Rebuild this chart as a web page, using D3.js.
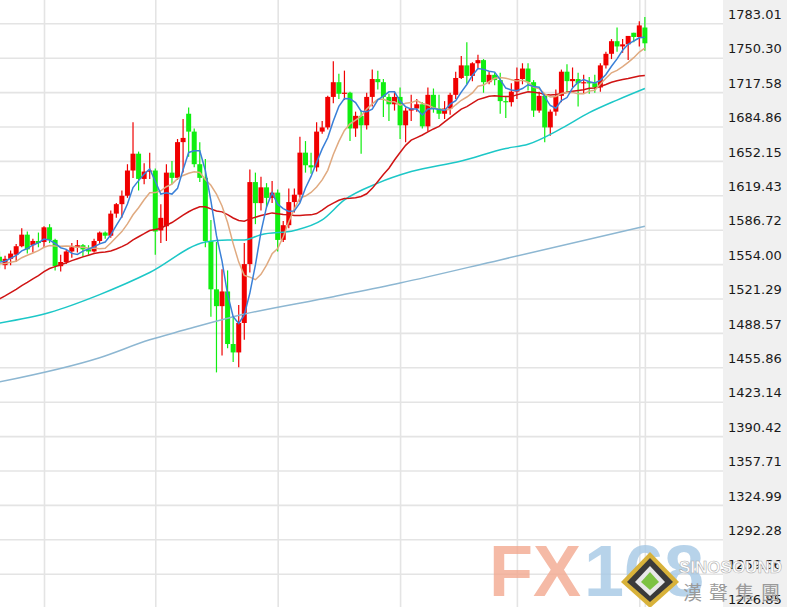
<!DOCTYPE html>
<html><head><meta charset="utf-8">
<script src="https://cdn.jsdelivr.net/npm/d3@7"></script>
<style>html,body{margin:0;padding:0;background:#fff;overflow:hidden}</style>
</head><body><svg id="c" width="787" height="607"></svg>
<script>
// ---- data ----
const dates = [
"01-21","01-22","01-23","01-24","01-27","01-28","01-29","01-30","01-31",
"02-03","02-04","02-05","02-06","02-07","02-10","02-11","02-12","02-13","02-14","02-17","02-18","02-19","02-20","02-21","02-24","02-25","02-26","02-27","02-28",
"03-02","03-03","03-04","03-05","03-06","03-09","03-10","03-11","03-12","03-13","03-16","03-17","03-18","03-19","03-20","03-23","03-24","03-25","03-26","03-27","03-30","03-31",
"04-01","04-02","04-03","04-06","04-07","04-08","04-09","04-10","04-13","04-14","04-15","04-16","04-17","04-20","04-21","04-22","04-23","04-24","04-27","04-28","04-29","04-30",
"05-01","05-04","05-05","05-06","05-07","05-08","05-11","05-12","05-13","05-14","05-15","05-18","05-19","05-20","05-21","05-22","05-25","05-26","05-27","05-28","05-29",
"06-01","06-02","06-03","06-04","06-05","06-08","06-09","06-10","06-11","06-12","06-15","06-16","06-17","06-18","06-19","06-22","06-23","06-24","06-25","06-26","06-29","06-30",
"07-01"];
const open = [
1561,1553,1559,1563,1571,1582,1572,1576,1575,
1589,1577,1552,1556,1566,1570,1572,1568,1566,1576,1584,1581,1602,1611,1619,1643,1659,1635,1642,1643,
1586,1590,1641,1636,1670,1697,1680,1649,1636,1576,1530,1514,1528,1478,1470,1498,1554,1632,1612,1627,1617,1622,
1577,1591,1613,1620,1660,1648,1646,1680,1684,1713,1727,1716,1717,1683,1695,1686,1713,1730,1727,1713,1706,1713,
1686,1700,1702,1706,1685,1715,1702,1697,1702,1715,1731,1743,1733,1745,1748,1727,1734,1729,1709,1708,1718,
1730,1740,1727,1700,1714,1684,1699,1714,1737,1728,1730,1726,1727,1726,1722,1743,1754,1766,1761,1763,1774,1770,
1779];
const high = [
1566,1562,1567,1573,1588,1585,1578,1584,1590,
1592,1578,1563,1568,1574,1577,1573,1572,1578,1585,1585,1605,1612,1624,1649,1689,1661,1650,1660,1645,
1611,1649,1652,1673,1692,1703,1683,1670,1654,1596,1575,1549,1548,1504,1515,1574,1644,1641,1637,1631,1633,1625,
1595,1626,1626,1675,1671,1660,1689,1690,1714,1747,1735,1738,1718,1699,1700,1717,1739,1738,1730,1716,1718,1722,
1703,1715,1711,1708,1722,1721,1715,1709,1717,1737,1752,1765,1746,1753,1749,1737,1736,1736,1713,1726,1741,
1745,1745,1729,1718,1715,1701,1720,1739,1744,1741,1736,1734,1732,1734,1745,1756,1768,1779,1768,1771,1774,1785,
1789];
const low = [
1550,1549,1553,1556,1570,1564,1565,1570,1570,
1574,1548,1547,1554,1560,1565,1561,1563,1565,1573,1578,1579,1598,1598,1617,1636,1624,1630,1635,1563,
1574,1576,1630,1634,1641,1656,1646,1632,1570,1504,1451,1467,1474,1461,1456,1482,1546,1592,1605,1608,1612,1566,
1575,1588,1603,1613,1641,1640,1642,1678,1682,1707,1711,1710,1671,1675,1659,1682,1704,1720,1694,1690,1700,1673,
1670,1690,1699,1683,1680,1698,1692,1692,1696,1711,1730,1725,1728,1740,1717,1725,1724,1697,1693,1704,1711,
1725,1719,1694,1698,1670,1676,1695,1708,1717,1722,1704,1716,1716,1717,1718,1740,1749,1756,1755,1748,1765,1761,
1757];
const close = [
1557,1559,1564,1571,1582,1568,1576,1574,1589,
1577,1552,1556,1566,1570,1572,1568,1566,1576,1584,1581,1602,1611,1619,1643,1659,1635,1642,1643,1585,
1598,1641,1636,1670,1674,1680,1649,1636,1576,1530,1514,1528,1478,1470,1498,1554,1632,1612,1627,1617,1622,1577,
1591,1613,1620,1660,1648,1646,1680,1684,1713,1727,1716,1717,1683,1695,1686,1713,1730,1727,1713,1706,1713,1686,
1700,1702,1706,1685,1715,1702,1697,1702,1715,1731,1743,1733,1745,1748,1727,1734,1729,1709,1708,1718,1730,
1740,1727,1700,1714,1684,1699,1714,1737,1728,1730,1726,1727,1726,1722,1743,1754,1766,1761,1763,1771,1770,1781,
1764];
// closes of the sessions before the first visible candle (for the moving averages)
const priorClose = [1475,1471,1476,1476,1476,1475,1479,1478,1486,1499,1501,1511,1510,1515,1517,1519,1528,1552,1566,1574,1556,1552,1562,1548,1545,1555,1551,1557,1560];
// long moving averages
const ma60Dates = ["01-21","02-03","02-14","02-27","03-12","03-18","03-23","03-26","04-03","04-10","04-16","04-24","05-04","05-15","05-27","06-02","06-10","06-17","06-24","07-01"];
const ma60Vals  = [1498,1508,1525,1546,1575,1577,1577,1582,1586,1596,1615,1631,1642,1652,1664,1668,1683,1698,1710,1721];
const ma200Dates = ["01-21","02-14","02-27","03-06","03-19","04-14","04-30","05-26","07-01"];
const ma200Vals  = [1442,1465,1482,1491,1504,1523,1536,1558,1590];
const yTicks = [1783.01,1750.30,1717.58,1684.86,1652.15,1619.43,1586.72,1554.00,1521.29,1488.57,1455.86,1423.14,1390.42,1357.71,1324.99,1292.28,1259.56,1226.85];
const monthEnds = ["01-31","02-28","03-31","04-30","05-29","06-30","07-01"];

// ---- drawing ----
const W = 787, H = 607, plotRight = 723;
const svg = d3.select('#c');
const x = d3.scalePoint().domain(dates).range([-0.51, 644.87]);
const y = d3.scaleLinear().domain([1226.85, 1783.01]).range([608.1, 23.3]);

svg.append('rect').attr('width', W).attr('height', H).attr('fill', '#fff');
svg.append('rect').attr('x', plotRight).attr('y', 0).attr('width', W - plotRight).attr('height', H).attr('fill', '#f0f0f0');

// horizontal grid
const gy = svg.append('g').call(d3.axisRight(y).tickValues(yTicks).tickSize(plotRight).tickFormat(''));
gy.select('.domain').remove();
gy.selectAll('line').attr('stroke', '#e4e4e4').attr('stroke-width', 1.6);

// vertical grid
const gx = svg.append('g').call(d3.axisBottom(x).tickValues(monthEnds).tickSize(H).tickFormat(''));
gx.select('.domain').remove();
gx.selectAll('line').attr('stroke', '#e4e4e4').attr('stroke-width', 1.6);

// candles
const idx = d3.range(dates.length);
const up = i => close[i] >= open[i];
const RED = '#f00000', GREEN = '#10ee10';
const bw = 5;
const cg = svg.append('g');
cg.selectAll('line.w').data(idx).join('line')
  .attr('x1', i => x(dates[i])).attr('x2', i => x(dates[i]))
  .attr('y1', i => y(high[i])).attr('y2', i => y(low[i]))
  .attr('stroke', i => up(i) ? RED : GREEN).attr('stroke-width', 1.2);
cg.selectAll('rect').data(idx).join('rect')
  .attr('x', i => x(dates[i]) - bw / 2).attr('width', bw)
  .attr('y', i => y(Math.max(open[i], close[i])))
  .attr('height', i => Math.max(1.2, Math.abs(y(open[i]) - y(close[i]))))
  .attr('fill', i => up(i) ? RED : GREEN);

// moving averages
const allClose = priorClose.concat(close);
const P = priorClose.length;
const ma = n => close.map((c, i) => d3.mean(allClose.slice(i + P - n + 1, i + P + 1)));
const lineIdx = d3.line().x((d, i) => x(dates[i])).y(d => y(d));
const lineS = d3.line().x(d => x(d[0])).y(d => y(d[1])).curve(d3.curveMonotoneX);

svg.append('path').attr('d', lineS(d3.zip(ma200Dates, ma200Vals))).attr('fill', 'none').attr('stroke', '#8db7d2').attr('stroke-width', 1.5);
svg.append('path').attr('d', lineS(d3.zip(ma60Dates, ma60Vals))).attr('fill', 'none').attr('stroke', '#1cc7c7').attr('stroke-width', 1.5);
svg.append('path').attr('d', lineIdx(ma(30))).attr('fill', 'none').attr('stroke', '#d01414').attr('stroke-width', 1.5);
svg.append('path').attr('d', lineIdx(ma(10))).attr('fill', 'none').attr('stroke', '#e0aa80').attr('stroke-width', 1.5);
svg.append('path').attr('d', lineIdx(ma(5))).attr('fill', 'none').attr('stroke', '#3a80d8').attr('stroke-width', 1.5);

// price labels
const ga = svg.append('g').attr('transform', `translate(${plotRight},0)`)
  .call(d3.axisRight(y).tickValues(yTicks).tickSize(0).tickPadding(5).tickFormat(d3.format('.2f')));
ga.select('.domain').remove();
ga.selectAll('text').attr('font-family', 'DejaVu Sans, Verdana, sans-serif').attr('font-size', 13)
  .attr('fill', '#1a1a1a').attr('dy', '-0.37em');

// watermark
const wm = svg.append('g').attr('opacity', 0.8);
wm.append('text').attr('x', 489).attr('y', 596).attr('font-family', 'Liberation Sans, Arial, sans-serif')
  .attr('font-weight', 'bold').attr('font-size', 72).attr('fill', '#f3a990').text('FX');
wm.append('text').attr('x', 584).attr('y', 596).attr('font-family', 'Liberation Sans, Arial, sans-serif')
  .attr('font-weight', 'bold').attr('font-size', 72).attr('fill', '#a6c9e6').text('168');
const lg = svg.append('g').attr('transform', 'translate(650,580)');
lg.append('path').attr('d', 'M0,-28 L29,2 L0,28 L-29,2 Z').attr('fill', '#d8b23a');
lg.append('path').attr('d', 'M0,-22 L23,2 L0,22 L-23,2 Z').attr('fill', '#3a3a3a');
lg.append('path').attr('d', 'M0,-14 L15,2 L0,16 L-15,2 Z').attr('fill', '#e8e8e8');
lg.append('path').attr('d', 'M0,-8 L9,2 L0,10 L-9,2 Z').attr('fill', '#7cc242');
svg.append('text').attr('x', 679).attr('y', 573).attr('font-family', 'Liberation Sans, Arial, sans-serif')
  .attr('font-weight', 'bold').attr('font-size', 17).attr('fill', '#ffffff').attr('stroke', '#b0b0b0').attr('stroke-width', 0.6)
  .text('SINOSOUND');
svg.append('text').attr('x', 683).attr('y', 600).attr('font-family', 'Noto Sans CJK TC, sans-serif')
  .attr('font-size', 19).attr('fill', '#9a9a9a').attr('letter-spacing', 7).text('漢聲集團');
</script></body></html>
